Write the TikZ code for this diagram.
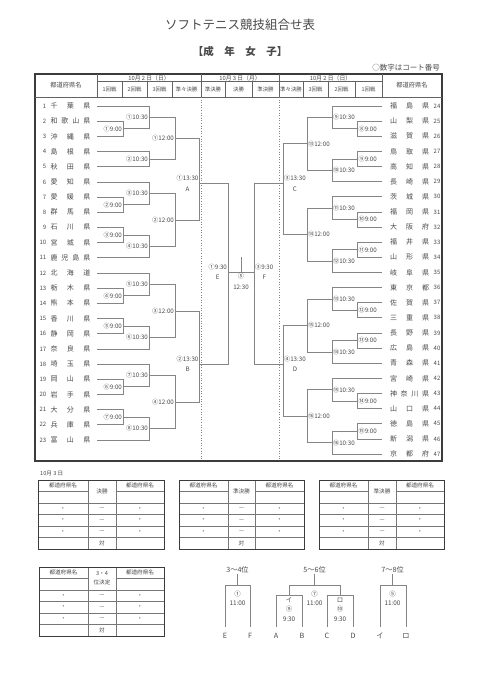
\documentclass[tikz,border=0pt]{standalone}
\usepackage{fontspec}
\setmainfont{Noto Sans CJK JP}
\usetikzlibrary{calc}
\definecolor{ln}{HTML}{858585}
\definecolor{tx}{HTML}{4A4A4A}
\definecolor{fr}{HTML}{3C3C3C}
% left-side match: name, x, input1, input2, label
\newcommand\brL[5]{%
  \coordinate (#1x) at (#2,0);
  \draw[br] (#3) -- (#3 -| #1x) -- (#4 -| #1x) -- (#4);
  \coordinate (#1) at ($(#3 -| #1x)!0.5!(#4 -| #1x)$);
  \node[lbl,anchor=east] (#1t) at ([xshift=-0.4pt]#1) {#5};}
\newcommand\brR[5]{%
  \coordinate (#1x) at (#2,0);
  \draw[br] (#3) -- (#3 -| #1x) -- (#4 -| #1x) -- (#4);
  \coordinate (#1) at ($(#3 -| #1x)!0.5!(#4 -| #1x)$);
  \node[lbl,anchor=west] (#1t) at ([xshift=0.4pt]#1) {#5};}
% quarter/semi with given output y
\newcommand\qfL[6]{%
  \coordinate (#1) at (#2,#5);
  \draw[br] (#3) -- (#3 -| #1) -- (#4 -| #1) -- (#4);
  \node[lbl,anchor=east,align=center] (#1t) at ([xshift=-0.4pt]#1) {#6};}
\newcommand\qfR[6]{%
  \coordinate (#1) at (#2,#5);
  \draw[br] (#3) -- (#3 -| #1) -- (#4 -| #1) -- (#4);
  \node[lbl,anchor=west,align=center] (#1t) at ([xshift=0.4pt]#1) {#6};}
% result table: name, x0,x1,x2,x3, y0, middle header
\newcommand\rtbl[7]{%
 \begin{scope}[shift={(0,#6)}]
  \draw[tin] (#2,11.5) -- (#3,11.5) (#4,11.5) -- (#5,11.5);
  \foreach \yy in {23,34.5,46,57.5} {\draw[tin] (#2,\yy) -- (#5,\yy);}
  \draw[tin] (#3,0) -- (#3,69) (#4,0) -- (#4,69);
  \draw[tout] (#2,0) rectangle (#5,69);
  \node[ttx] (#1h1) at ({(#2+#3)/2},5.75) {都道府県名};
  \node[ttx] (#1h3) at ({(#4+#5)/2},5.75) {都道府県名};
  \node[ttx,align=center] (#1h2) at ({(#3+#4)/2},11.5) {#7};
  \foreach \yy [count=\k] in {28.75,40.25,51.75} {
    \node[ttx] (#1a\k) at ({(#2+#3)/2},\yy) {・};
    \node[ttx] (#1b\k) at ({(#3+#4)/2},\yy) {—};
    \node[ttx] (#1c\k) at ({(#4+#5)/2},\yy) {・};}
  \node[ttx] (#1d) at ({(#3+#4)/2},63.25) {対};
 \end{scope}}
\begin{document}
\begin{tikzpicture}[x=1pt,y=-1pt,
  br/.style={draw=ln,line width=0.7pt},
  hl/.style={draw=fr!80,line width=0.5pt},
  frm/.style={draw=fr,line width=1.1pt},
  dotl/.style={draw=ln,line width=0.6pt,dotted},
  tin/.style={draw=fr!70,line width=0.5pt},
  tout/.style={draw=fr,line width=1pt},
  lbl/.style={text=tx,font=\fontsize{6.2}{10.5}\selectfont,inner sep=0.5pt},
  pref/.style={text=tx,font=\fontsize{7}{8}\selectfont,inner sep=0pt},
  num/.style={text=tx,font=\fontsize{6}{7}\selectfont,inner sep=0pt},
  hd/.style={text=tx,font=\fontsize{6.3}{7}\selectfont,inner sep=0pt},
  hdd/.style={text=tx,font=\fontsize{5.8}{7}\selectfont,inner sep=0pt},
  hdr/.style={text=tx,font=\fontsize{5.4}{6}\selectfont,inner sep=0pt},
  ttx/.style={text=tx,font=\fontsize{5.6}{9}\selectfont,inner sep=0pt},
  btl/.style={text=tx,font=\fontsize{7.2}{8}\selectfont,inner sep=0pt},
  blb/.style={text=tx,font=\fontsize{6.4}{9.5}\selectfont,inner sep=0pt,align=center},
  ]
\fill[white] (0,0) rectangle (480,679);
\useasboundingbox (0,0) rectangle (480,679);

% titles
\node[text=tx,font=\fontsize{12.5}{14}\selectfont] (title) at (240,25) {ソフトテニス競技組合せ表};
\node[text=tx,font=\bfseries\fontsize{10.5}{12}\selectfont] (sub) at (240,52) {【成\quad 年\quad 女\quad 子】};
\node[text=tx,anchor=east,font=\fontsize{7.5}{9}\selectfont,inner sep=0pt] (note) at (440,68) {○数字はコート番号};

% main frame and header
\draw[frm] (35,74) rectangle (442,461);
\draw[hl] (35,97) -- (442,97);
\draw[hl] (97,81) -- (382,81);
\foreach \xx in {97,201,279,382} {\draw[hl] (\xx,74) -- (\xx,97);}
\foreach \xx in {122,147,172,225,252,303,328,355} {\draw[hl] (\xx,81) -- (\xx,97);}
\draw[dotl] (201,97) -- (201,461);
\draw[dotl] (279,97) -- (279,461);
\node[hd] (hL) at (66,85.5) {都道府県名};
\node[hd] (hR) at (412,85.5) {都道府県名};
\node[hdd] (dt1) at (149,77.8) {10月 2 日（日）};
\node[hdd] (dt2) at (240,77.8) {10月 3 日（月）};
\node[hdd] (dt3) at (330.5,77.8) {10月 2 日（日）};
\foreach \xx/\rn [count=\k] in {109.5/1回戦,134.5/2回戦,159.5/3回戦,186.5/準々決勝,213/準決勝,238.5/決勝,265.5/準決勝,291/準々決勝,315.5/3回戦,341.5/2回戦,368.5/1回戦}
  {\node[hdr] (rn\k) at (\xx,89.2) {\rn};}

% prefectures
\foreach \i/\nm in {1/千\hfil 葉\hfil 県,2/和\hfil 歌\hfil 山\hfil 県,3/沖\hfil 縄\hfil 県,4/島\hfil 根\hfil 県,5/秋\hfil 田\hfil 県,6/愛\hfil 知\hfil 県,7/愛\hfil 媛\hfil 県,8/群\hfil 馬\hfil 県,9/石\hfil 川\hfil 県,10/宮\hfil 城\hfil 県,11/鹿\hfil 児\hfil 島\hfil 県,12/北\hfil 海\hfil 道,13/栃\hfil 木\hfil 県,14/熊\hfil 本\hfil 県,15/香\hfil 川\hfil 県,16/静\hfil 岡\hfil 県,17/奈\hfil 良\hfil 県,18/埼\hfil 玉\hfil 県,19/岡\hfil 山\hfil 県,20/岩\hfil 手\hfil 県,21/大\hfil 分\hfil 県,22/兵\hfil 庫\hfil 県,23/富\hfil 山\hfil 県}
{
  \coordinate (p\i) at (97,{106+(\i-1)*15.18});
  \node[num,anchor=east] (nb\i) at (46.5,{106+(\i-1)*15.18}) {\i};
  \node[pref] (nm\i) at (70.5,{106+(\i-1)*15.18}) {\hbox to 40pt{\nm}};
}
\foreach \i/\nm in {24/福\hfil 島\hfil 県,25/山\hfil 梨\hfil 県,26/滋\hfil 賀\hfil 県,27/鳥\hfil 取\hfil 県,28/高\hfil 知\hfil 県,29/長\hfil 崎\hfil 県,30/茨\hfil 城\hfil 県,31/福\hfil 岡\hfil 県,32/大\hfil 阪\hfil 府,33/福\hfil 井\hfil 県,34/山\hfil 形\hfil 県,35/岐\hfil 阜\hfil 県,36/東\hfil 京\hfil 都,37/佐\hfil 賀\hfil 県,38/三\hfil 重\hfil 県,39/長\hfil 野\hfil 県,40/広\hfil 島\hfil 県,41/青\hfil 森\hfil 県,42/宮\hfil 崎\hfil 県,43/神\hfil 奈\hfil 川\hfil 県,44/山\hfil 口\hfil 県,45/徳\hfil 島\hfil 県,46/新\hfil 潟\hfil 県,47/京\hfil 都\hfil 府}
{
  \coordinate (p\i) at (382,{106+(\i-24)*15.13});
  \node[pref] (nm\i) at (409.5,{106+(\i-24)*15.13}) {\hbox to 39pt{\nm}};
  \node[num,anchor=west] (nb\i) at (433.5,{106+(\i-24)*15.13}) {\i};
}

% left bracket
\brL{a1}{123}{p2}{p3}{①9:00}
\brL{a2}{123}{p7}{p8}{②9:00}
\brL{a3}{123}{p9}{p10}{③9:00}
\brL{a4}{123}{p13}{p14}{④9:00}
\brL{a5}{123}{p15}{p16}{⑤9:00}
\brL{a6}{123}{p19}{p20}{⑥9:00}
\brL{a7}{123}{p21}{p22}{⑦9:00}
\brL{b1}{149}{p1}{a1}{①10:30}
\brL{b2}{149}{p4}{p5}{②10:30}
\brL{b3}{149}{p6}{a2}{③10:30}
\brL{b4}{149}{a3}{p11}{④10:30}
\brL{b5}{149}{p12}{a4}{⑤10:30}
\brL{b6}{149}{a5}{p17}{⑥10:30}
\brL{b7}{149}{p18}{a6}{⑦10:30}
\brL{b8}{149}{a7}{p23}{⑧10:30}
\brL{c1}{175}{b1}{b2}{①12:00}
\brL{c2}{175}{b3}{b4}{②12:00}
\brL{c3}{175}{b5}{b6}{③12:00}
\brL{c4}{175}{b7}{b8}{④12:00}
\qfL{qA}{199.5}{c1}{c2}{183.5}{①13:30\\A}
\qfL{qB}{199.5}{c3}{c4}{364}{②13:30\\B}
\qfL{sE}{228}{qA}{qB}{272}{①9:30\\E}

% right bracket
\brR{d8}{357.5}{p25}{p26}{⑧9:00}
\brR{d9}{357.5}{p27}{p28}{⑨9:00}
\brR{d10}{357.5}{p31}{p32}{⑩9:00}
\brR{d11}{357.5}{p33}{p34}{⑪9:00}
\brR{d12}{357.5}{p37}{p38}{⑫9:00}
\brR{d13}{357.5}{p39}{p40}{⑬9:00}
\brR{d14}{357.5}{p43}{p44}{⑭9:00}
\brR{d15}{357.5}{p45}{p46}{⑮9:00}
\brR{e9}{332}{p24}{d8}{⑨10:30}
\brR{e10}{332}{d9}{p29}{⑩10:30}
\brR{e11}{332}{p30}{d10}{⑪10:30}
\brR{e12}{332}{d11}{p35}{⑫10:30}
\brR{e13}{332}{p36}{d12}{⑬10:30}
\brR{e14}{332}{d13}{p41}{⑭10:30}
\brR{e15}{332}{p42}{d14}{⑮10:30}
\brR{e16}{332}{d15}{p47}{⑯10:30}
\brR{f1}{307}{e9}{e10}{⑬12:00}
\brR{f2}{307}{e11}{e12}{⑭12:00}
\brR{f3}{307}{e13}{e14}{⑮12:00}
\brR{f4}{307}{e15}{e16}{⑯12:00}
\qfR{qC}{283}{f1}{f2}{183.5}{③13:30\\C}
\qfR{qD}{283}{f3}{f4}{364}{④13:30\\D}
\qfR{sF}{254}{qC}{qD}{272}{③9:30\\F}

% final
\draw[br] (sE) -- (sF);
\coordinate (fstem) at (241,257);
\draw[br] (fstem) -- (fstem |- sE);
\node[lbl,anchor=north,align=center] (finl) at (241,273) {⑤\\12:30};

% bottom tables
\node[text=tx,anchor=west,font=\fontsize{5.6}{7}\selectfont,inner sep=0pt] (d3lbl) at (40,474) {10月 3 日};
\rtbl{tA}{38}{88}{116}{164}{480}{決勝}
\rtbl{tB}{179}{228}{255}{304}{480}{準決勝}
\rtbl{tC}{319}{368}{396}{444}{480}{準決勝}
\rtbl{tD}{39}{88}{116}{164}{567}{3・4\\位決定}

% placement brackets
\node[btl] (t34) at (237.5,570) {3～4位};
\node[btl] (lE) at (225,636) {E};
\node[btl] (lF) at (250,636) {F};
\draw[br] (t34.south) ++(0,1) -- (237.5,585);
\draw[br] (225,627) -- (225,585) -- (250,585) -- (250,627);
\node[blb] (m34) at (237.5,598.5) {①\\11:00};

\node[btl] (t56) at (314.5,570) {5～6位};
\node[btl] (lA) at (276,636) {A};
\node[btl] (lB) at (302,636) {B};
\node[btl] (lC) at (327,636) {C};
\node[btl] (lD) at (353,636) {D};
\draw[br] (t56.south) ++(0,1) -- (314.5,585);
\draw[br] (289,595) -- (289,585) -- (340,585) -- (340,595);
\draw[br] (276,627) -- (276,595) -- (302,595) -- (302,627);
\draw[br] (327,627) -- (327,595) -- (353,595) -- (353,627);
\node[blb] (m56) at (314.5,598.5) {⑦\\11:00};
\node[blb] (mi) at (289,609.5) {イ\\⑨\\9:30};
\node[blb] (mro) at (340,609.5) {ロ\\⑩\\9:30};

\node[btl] (t78) at (392.5,570) {7～8位};
\node[btl] (li) at (380,636) {イ};
\node[btl] (lro) at (406,636) {ロ};
\draw[br] (t78.south) ++(0,1) -- (392.5,585);
\draw[br] (380,627) -- (380,585) -- (406,585) -- (406,627);
\node[blb] (m78) at (392.5,598.5) {⑤\\11:00};
\end{tikzpicture}
\end{document}
